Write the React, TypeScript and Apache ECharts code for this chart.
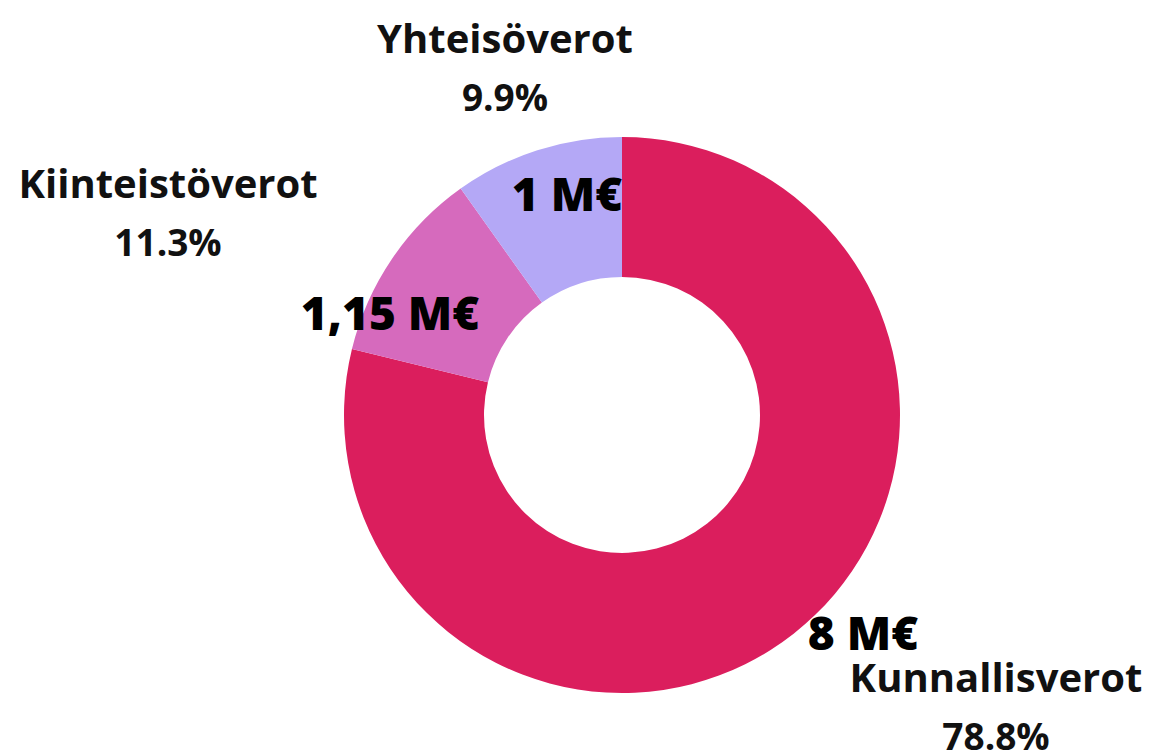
import React, { useEffect, useRef } from "react";
import * as echarts from "echarts";

const categories = ["Kunnallisverot", "Kiinteistöverot", "Yhteisöverot"];
const values = [8, 1.15, 1];
const unit = "M€";
const colors = ["#DB1E5D", "#D66ABD", "#B4A8F6"];

// label anchor positions (layout only)
const valueLabelPos = [
  [863, 632],
  [390, 312],
  [567, 193],
];
const nameLabelPos = [
  [996, 717],
  [168, 223],
  [505, 78],
];

const FONT = "'Open Sans'";

export default function App() {
  const ref = useRef<HTMLDivElement>(null);
  useEffect(() => {
    if (!ref.current) return;
    const chart = echarts.init(ref.current, undefined, { renderer: "svg" });
    const total = values.reduce((a, b) => a + b, 0);
    const pct = values.map((v) => ((v / total) * 100).toFixed(1) + "%");
    const data = categories.map((c, i) => ({
      name: c,
      value: values[i],
      itemStyle: { color: colors[i] },
    }));
    const common = {
      type: "pie",
      center: [622, 415],
      radius: [138, 278],
      startAngle: 90,
      clockwise: true,
      avoidLabelOverlap: false,
      labelLine: { show: false },
    };
    chart.setOption({
      animation: false,
      backgroundColor: "#ffffff",
      series: [
        {
          ...common,
          data,
          z: 2,
          label: {
            show: true,
            position: "inside",
            formatter: (p: any) =>
              String(values[p.dataIndex]).replace(".", ",") + " " + unit,
            fontFamily: FONT,
            fontWeight: 800,
            fontSize: 46,
            lineHeight: 40,
            color: "#000",
          },
          labelLayout: (p: any) => ({
            x: valueLabelPos[p.dataIndex][0],
            y: valueLabelPos[p.dataIndex][1],
            align: "center",
            verticalAlign: "middle",
          }),
        },
        {
          ...common,
          silent: true,
          z: 3,
          data: data.map((d) => ({ ...d, itemStyle: { color: "rgba(0,0,0,0)" } })),
          label: {
            show: true,
            position: "inside",
            formatter: (p: any) => "{n|" + categories[p.dataIndex] + "}\n{p|" + pct[p.dataIndex] + "}",
            rich: {
              n: {
                fontFamily: FONT,
                fontWeight: 700,
                fontSize: 40,
                color: "#111",
                lineHeight: 36,
              },
              p: {
                fontFamily: FONT,
                fontWeight: 700,
                fontSize: 37,
                color: "#111",
                lineHeight: 82,
              },
            },
          },
          labelLayout: (p: any) => ({
            x: nameLabelPos[p.dataIndex][0],
            y: nameLabelPos[p.dataIndex][1],
            align: "center",
            verticalAlign: "middle",
          }),
        },
      ],
    });
    return () => chart.dispose();
  }, []);
  return (
    <div
      ref={ref}
      style={{ position: "fixed", left: 0, top: 0, width: 1153, height: 751 }}
    />
  );
}
